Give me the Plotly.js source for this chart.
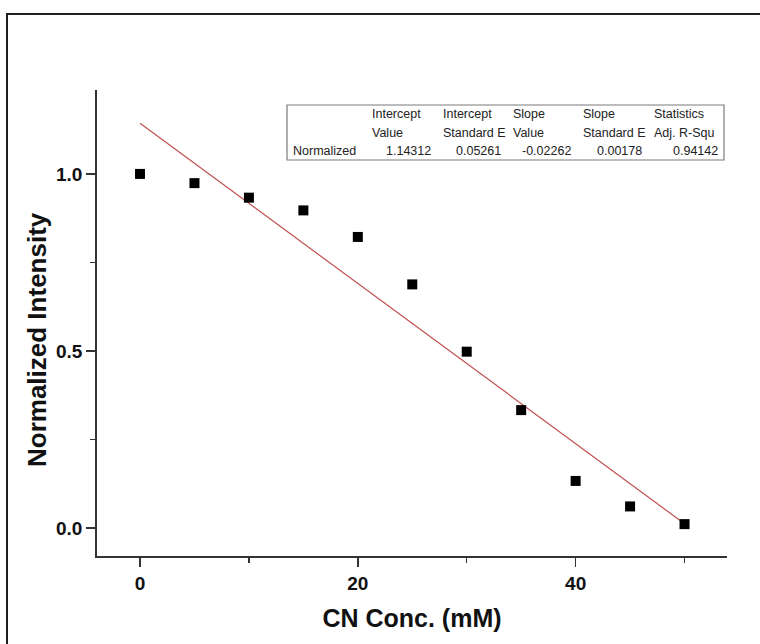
<!DOCTYPE html>
<html>
<head>
<meta charset="utf-8">
<script src="https://cdn.plot.ly/plotly-3.0.1.min.js"></script>
<style>
  html, body { margin: 0; padding: 0; background: #fff; }
  #chart { width: 760px; height: 644px; }
</style>
</head>
<body>
<div id="chart"></div>
<script>
// Cyanide concentration series (mM) and normalized emission intensity
const concentration = [0, 5, 10, 15, 20, 25, 30, 35, 40, 45, 50];
const normalizedIntensity = [1.0, 0.974, 0.933, 0.897, 0.822, 0.688, 0.498, 0.333, 0.133, 0.061, 0.011];

// Linear fit results
const fitIntercept = 1.14312;
const fitSlope = -0.02262;
const fitRange = [0, 50];

// Fit summary table
const fitHeaderTop = ['Intercept', 'Intercept', 'Slope', 'Slope', 'Statistics'];
const fitHeaderSub = ['Value', 'Standard E', 'Value', 'Standard E', 'Adj. R-Squ'];
const fitRowLabel = 'Normalized';
const fitValues = ['1.14312', '0.05261', '-0.02262', '0.00178', '0.94142'];

const xTickVals = [0, 20, 40];
const yTickVals = [0.0, 0.5, 1.0];
const xTitle = 'CN Conc. (mM)';
const yTitle = 'Normalized Intensity';

// plot-area geometry in pixels, used to place the table, titles and frame
const W = 760, H = 644;
const M = { l: 97, r: 33, t: 90, b: 88 };
const PW = W - M.l - M.r, PH = H - M.t - M.b;
const px = x => (x - M.l) / PW;
const py = y => (H - M.b - y) / PH;

const fitLine = {
  x: fitRange,
  y: fitRange.map(c => fitIntercept + fitSlope * c),
  mode: 'lines',
  line: { color: '#c0504d', width: 1.2 },
  hoverinfo: 'skip',
  showlegend: false
};

const points = {
  x: concentration,
  y: normalizedIntensity,
  mode: 'markers',
  marker: { symbol: 'square', size: 10, color: '#000' },
  showlegend: false
};

// table layout
const colEdges = [287, 366, 437, 507, 577, 648, 724];
const rowEdges = [105, 123.5, 141.5, 160];
const shapes = [];
const annotations = [];
const gridColor = '#b0b0b0';
for (let i = 1; i < colEdges.length - 1; i++) {
  shapes.push({ type: 'line', xref: 'paper', yref: 'paper',
    x0: px(colEdges[i]), x1: px(colEdges[i]), y0: py(rowEdges[0]), y1: py(rowEdges[3]),
    line: { color: gridColor, width: 1 } });
}
shapes.push({ type: 'line', xref: 'paper', yref: 'paper',
  x0: px(colEdges[0]), x1: px(colEdges[6]), y0: py(rowEdges[2]), y1: py(rowEdges[2]),
  line: { color: gridColor, width: 1 } });
shapes.push({ type: 'rect', xref: 'paper', yref: 'paper',
  x0: px(colEdges[0]), x1: px(colEdges[6]), y0: py(rowEdges[0]), y1: py(rowEdges[3]),
  line: { color: '#7a7a7a', width: 1.2 }, fillcolor: 'rgba(255,255,255,1)', layer: 'above' });

const cellFont = { family: 'Arial, Liberation Sans, sans-serif', size: 12.5, color: '#222' };
function cellText(text, colIdx, rowIdx, align) {
  const xl = colEdges[colIdx], xr = colEdges[colIdx + 1];
  const yc = (rowEdges[rowIdx] + rowEdges[rowIdx + 1]) / 2;
  annotations.push({
    xref: 'paper', yref: 'paper',
    x: align === 'left' ? px(xl + 4) : px(xr - 4),
    y: py(yc),
    xanchor: align, yanchor: 'middle',
    text: text, showarrow: false, font: cellFont
  });
}
fitHeaderTop.forEach((t, i) => cellText(t, i + 1, 0, 'left'));
fitHeaderSub.forEach((t, i) => cellText(t, i + 1, 1, 'left'));
cellText(fitRowLabel, 0, 2, 'left');
fitValues.forEach((t, i) => cellText(t, i + 1, 2, 'right'));

// outer frame around the whole figure
shapes.push({ type: 'rect', xref: 'paper', yref: 'paper',
  x0: px(7), x1: px(790), y0: py(14), y1: py(680),
  line: { color: '#1e1e1e', width: 2 }, layer: 'below' });

const tickFont = { family: 'Arial, Liberation Sans, sans-serif', size: 19, color: '#111', weight: 'bold' };
const titleFont = { family: 'Arial, Liberation Sans, sans-serif', size: 26, color: '#111', weight: 'bold' };

// vertical axis title, sitting slightly below the plot centre
annotations.push({
  xref: 'paper', yref: 'paper',
  x: px(37), y: py(340),
  xanchor: 'center', yanchor: 'middle',
  textangle: -90,
  text: yTitle, showarrow: false, font: titleFont
});

const layout = {
  width: W, height: H,
  margin: M,
  paper_bgcolor: '#fff', plot_bgcolor: '#fff',
  showlegend: false,
  xaxis: {
    range: [-3.95, 53.9],
    tickvals: xTickVals,
    ticks: 'outside', ticklen: 9, tickwidth: 1.5, tickcolor: '#333',
    minor: { dtick: 10, tick0: 0, ticks: 'outside', ticklen: 5, tickwidth: 1.5, tickcolor: '#333', showgrid: false },
    showline: true, linecolor: '#333', linewidth: 1.8,
    showgrid: false, zeroline: false,
    tickfont: tickFont,
    title: { text: xTitle, font: Object.assign({}, titleFont, { size: 25 }), standoff: 17 },
    automargin: false
  },
  yaxis: {
    range: [-0.079, 1.237],
    tickvals: yTickVals,
    tickformat: '.1f',
    ticks: 'outside', ticklen: 9, tickwidth: 1.5, tickcolor: '#333',
    minor: { dtick: 0.25, tick0: 0, ticks: 'outside', ticklen: 5, tickwidth: 1.5, tickcolor: '#333', showgrid: false },
    showline: true, linecolor: '#333', linewidth: 1.8,
    showgrid: false, zeroline: false,
    tickfont: tickFont,
    automargin: false
  },
  shapes: shapes,
  annotations: annotations
};

Plotly.newPlot('chart', [fitLine, points], layout, { displayModeBar: false, staticPlot: true });
</script>
</body>
</html>
